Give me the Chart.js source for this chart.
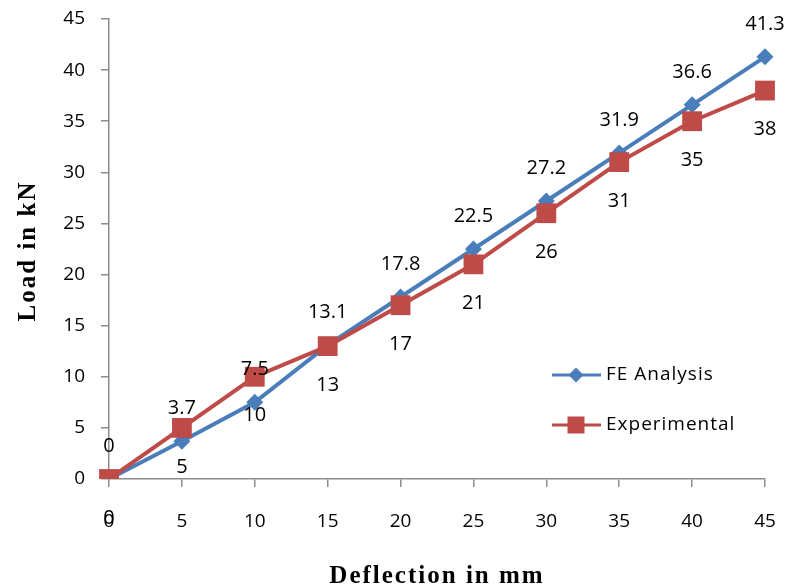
<!DOCTYPE html>
<html>
<head>
<meta charset="utf-8">
<script src="https://cdn.jsdelivr.net/npm/chart.js@4/dist/chart.umd.min.js"></script>
<style>
  html, body { margin: 0; padding: 0; background: #ffffff; }
  #wrap { width: 787px; height: 586px; position: relative; }
</style>
</head>
<body>
<div id="wrap"><canvas id="c" width="787" height="586"></canvas></div>
<script>
// Deflection (mm) on the x axis
const deflection = ['0', '5', '10', '15', '20', '25', '30', '35', '40', '45'];
// Load (kN) from the finite element model
const feAnalysis = [0, 3.7, 7.5, 13.1, 17.8, 22.5, 27.2, 31.9, 36.6, 41.3];
// Load (kN) measured in the test
const experimental = [0, 5, 10, 13, 17, 21, 26, 31, 35, 38];

const xTitle = 'Deflection in mm';
const yTitle = 'Load in kN';

const BLUE = '#4a7ebb';
const RED = '#be4b48';
const AXIS = '#8c8c8c';
const SANS = '"Open Sans", Lato, sans-serif';
const SERIF = '"Liberation Serif", "DejaVu Serif", serif';

// Writes each point's value above (FE) or below (experimental) the marker
const valueLabels = {
  id: 'valueLabels',
  afterDatasetsDraw(chart) {
    const ctx = chart.ctx;
    ctx.save();
    ctx.font = '20px ' + SANS;
    ctx.fillStyle = '#000000';
    ctx.textAlign = 'center';
    ctx.textBaseline = 'middle';
    chart.data.datasets.forEach((ds, i) => {
      const meta = chart.getDatasetMeta(i);
      const dy = ds.labelSide === 'above' ? -33 : 39;
      meta.data.forEach((pt, j) => {
        ctx.fillText(String(ds.data[j]), pt.x, pt.y + dy);
      });
    });
    ctx.restore();
  }
};

// Bold serif axis titles, slightly letter-spaced
const axisTitles = {
  id: 'axisTitles',
  afterDraw(chart) {
    const ctx = chart.ctx;
    const area = chart.chartArea;
    ctx.save();
    ctx.fillStyle = '#000000';
    ctx.font = 'bold 25px ' + SERIF;
    ctx.letterSpacing = '2px';
    ctx.textAlign = 'center';
    ctx.textBaseline = 'alphabetic';
    ctx.fillText(xTitle, (area.left + area.right) / 2, 583);
    ctx.translate(35, (area.top + area.bottom) / 2 + 2);
    ctx.rotate(-Math.PI / 2);
    ctx.fillText(yTitle, 0, 0);
    ctx.restore();
  }
};

// Legend drawn inside the plot, at the lower right
const insideLegend = {
  id: 'insideLegend',
  afterDraw(chart) {
    const ctx = chart.ctx;
    ctx.save();
    chart.data.datasets.forEach((ds, r) => {
      const y = 375 + r * 50;
      ctx.strokeStyle = ds.borderColor;
      ctx.lineWidth = 3;
      ctx.beginPath();
      ctx.moveTo(552, y);
      ctx.lineTo(601, y);
      ctx.stroke();
      ctx.fillStyle = ds.backgroundColor;
      ctx.beginPath();
      if (ds.pointStyle === 'rectRot') {
        const s = 7.5;
        ctx.moveTo(576, y - s);
        ctx.lineTo(576 + s, y);
        ctx.lineTo(576, y + s);
        ctx.lineTo(576 - s, y);
        ctx.closePath();
      } else {
        ctx.rect(576 - 8.5, y - 8.5, 17, 17);
      }
      ctx.fill();
      ctx.fillStyle = '#000000';
      ctx.font = '19px ' + SANS;
      ctx.letterSpacing = '1px';
      ctx.textAlign = 'left';
      ctx.textBaseline = 'middle';
      ctx.fillText(ds.label, 606, y);
    });
    ctx.restore();
  }
};

new Chart(document.getElementById('c'), {
  type: 'line',
  data: {
    labels: deflection,
    datasets: [
      {
        label: 'FE Analysis',
        data: feAnalysis,
        borderColor: BLUE,
        backgroundColor: BLUE,
        borderWidth: 4,
        pointStyle: 'rectRot',
        pointRadius: 8.5,
        pointHoverRadius: 8.5,
        pointBorderWidth: 0,
        labelSide: 'above',
        order: 1,
        tension: 0
      },
      {
        label: 'Experimental',
        data: experimental,
        borderColor: RED,
        backgroundColor: RED,
        borderWidth: 4,
        pointStyle: 'rect',
        pointRadius: 14,
        pointHoverRadius: 14,
        pointBorderWidth: 0,
        labelSide: 'below',
        order: 0,
        tension: 0
      }
    ]
  },
  options: {
    responsive: false,
    animation: false,
    layout: { autoPadding: false, padding: { left: 0, right: 22, top: 19, bottom: 0 } },
    plugins: {
      legend: { display: false },
      tooltip: { enabled: false }
    },
    scales: {
      x: {
        type: 'category',
        offset: false,
        afterFit(scale) {
          scale.height = 107;
          scale.paddingLeft = 0;
          scale.paddingRight = 0;
        },
        grid: {
          display: true,
          drawOnChartArea: false,
          drawTicks: true,
          tickLength: 8,
          color: AXIS,
          lineWidth: 1.5
        },
        border: { display: true, color: AXIS, width: 1.5 },
        ticks: {
          color: '#000000',
          font: { family: SANS, size: 19 },
          padding: 23,
          maxRotation: 0,
          autoSkip: false
        },
        title: { display: false }
      },
      y: {
        min: 0,
        max: 45,
        afterFit(scale) {
          scale.width = 109;
          scale.paddingTop = 0;
          scale.paddingBottom = 0;
        },
        grid: {
          display: true,
          drawOnChartArea: false,
          drawTicks: true,
          tickLength: 8,
          color: AXIS,
          lineWidth: 1.5
        },
        border: { display: true, color: AXIS, width: 1.5 },
        ticks: {
          stepSize: 5,
          color: '#000000',
          font: { family: SANS, size: 19 },
          padding: 16
        },
        title: { display: false }
      }
    }
  },
  plugins: [valueLabels, axisTitles, insideLegend]
});
</script>
</body>
</html>
